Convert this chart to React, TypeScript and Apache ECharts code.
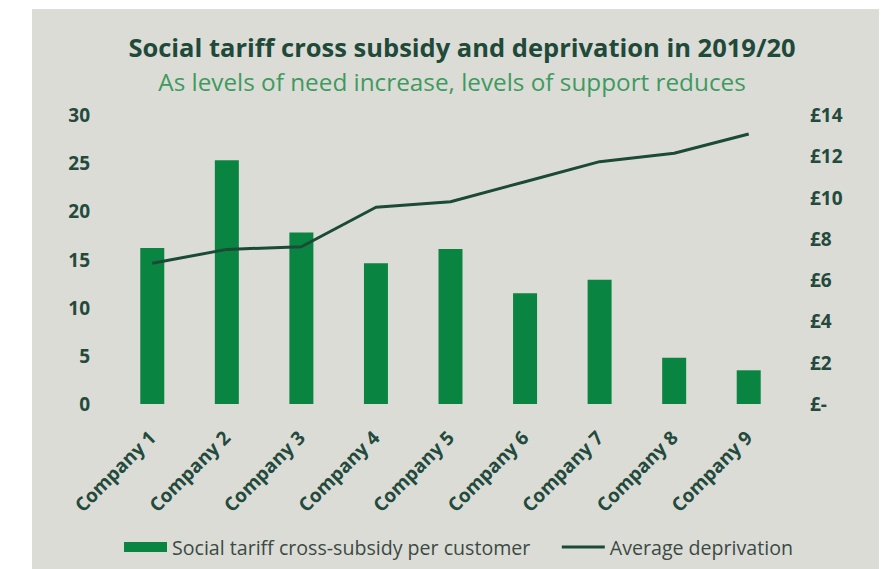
import React, { useEffect, useRef } from "react";
import * as echarts from "echarts";

const categories = ["Company 1", "Company 2", "Company 3", "Company 4", "Company 5", "Company 6", "Company 7", "Company 8", "Company 9"];
const subsidy = [16.2, 25.3, 17.8, 14.6, 16.1, 11.5, 12.9, 4.8, 3.5];
const deprivation = [6.82, 7.49, 7.62, 9.53, 9.8, 10.77, 11.74, 12.15, 13.08];
const titleText = "Social tariff cross subsidy and deprivation in 2019/20";
const subtitleText = "As levels of need increase, levels of support reduces";
const barName = "Social tariff cross-subsidy per customer";
const lineName = "Average deprivation";

const FONT = "'Open Sans', sans-serif";
const DARK = "#234a3c";

export default function App() {
  const ref = useRef<HTMLDivElement>(null);
  useEffect(() => {
    const chart = echarts.init(ref.current!, undefined, { renderer: "svg" });
    chart.setOption({
      animation: false,
      backgroundColor: "#ffffff",
      graphic: [
        { type: "rect", left: 32, top: 9, shape: { width: 847, height: 560 }, style: { fill: "#dcdcd7" }, z: -10 },
      ],
      title: [
        {
          text: titleText,
          left: 457,
          textAlign: "center",
          top: 29,
          textStyle: { fontFamily: FONT, fontSize: 25.5, fontWeight: "bold", color: "#1f4a3a" },
        },
        {
          text: subtitleText,
          left: 447,
          textAlign: "center",
          top: 64,
          textStyle: { fontFamily: FONT, fontSize: 24.3, fontWeight: "normal", color: "#3e9a5e" },
        },
      ],
      legend: {
        left: 124,
        top: 537,
        padding: 0,
        itemGap: 30,
        itemWidth: 43,
        itemHeight: 10,
        textStyle: { fontFamily: FONT, fontSize: 19.6, color: "#3b4a44" },
        data: [
          { name: barName, icon: "rect" },
          { name: lineName, itemStyle: { opacity: 0 }, lineStyle: { width: 3 } },
        ],
      },
      grid: { left: 115, right: 108, top: 115, bottom: 165 },
      xAxis: {
        type: "category",
        data: categories,
        axisLine: { show: false },
        axisTick: { show: false },
        axisLabel: {
          rotate: 45,
          interval: 0,
          margin: 30,
          fontFamily: FONT,
          fontSize: 19,
          fontWeight: "bold",
          color: DARK,
        },
      },
      yAxis: [
        {
          type: "value",
          min: 0,
          max: 30,
          interval: 5,
          splitLine: { show: false },
          axisLine: { show: false },
          axisTick: { show: false },
          axisLabel: { margin: 25, fontFamily: FONT, fontSize: 19, fontWeight: "bold", color: DARK },
        },
        {
          type: "value",
          min: 0,
          max: 14,
          interval: 2,
          position: "right",
          splitLine: { show: false },
          axisLine: { show: false },
          axisTick: { show: false },
          axisLabel: {
            margin: 24,
            fontFamily: FONT,
            fontSize: 19,
            fontWeight: "bold",
            color: DARK,
            formatter: (v: number) => (v === 0 ? "£-" : "£" + v),
          },
        },
      ],
      series: [
        {
          name: barName,
          type: "bar",
          data: subsidy,
          barWidth: 24,
          itemStyle: { color: "#0a8541" },
        },
        {
          name: lineName,
          type: "line",
          yAxisIndex: 1,
          data: deprivation,
          symbol: "none",
          lineStyle: { color: "#1b4a37", width: 3 },
          itemStyle: { color: "#1b4a37" },
        },
      ],
    });
    return () => chart.dispose();
  }, []);
  return <div ref={ref} style={{ position: "fixed", left: 0, top: 0, width: 894, height: 569 }} />;
}
